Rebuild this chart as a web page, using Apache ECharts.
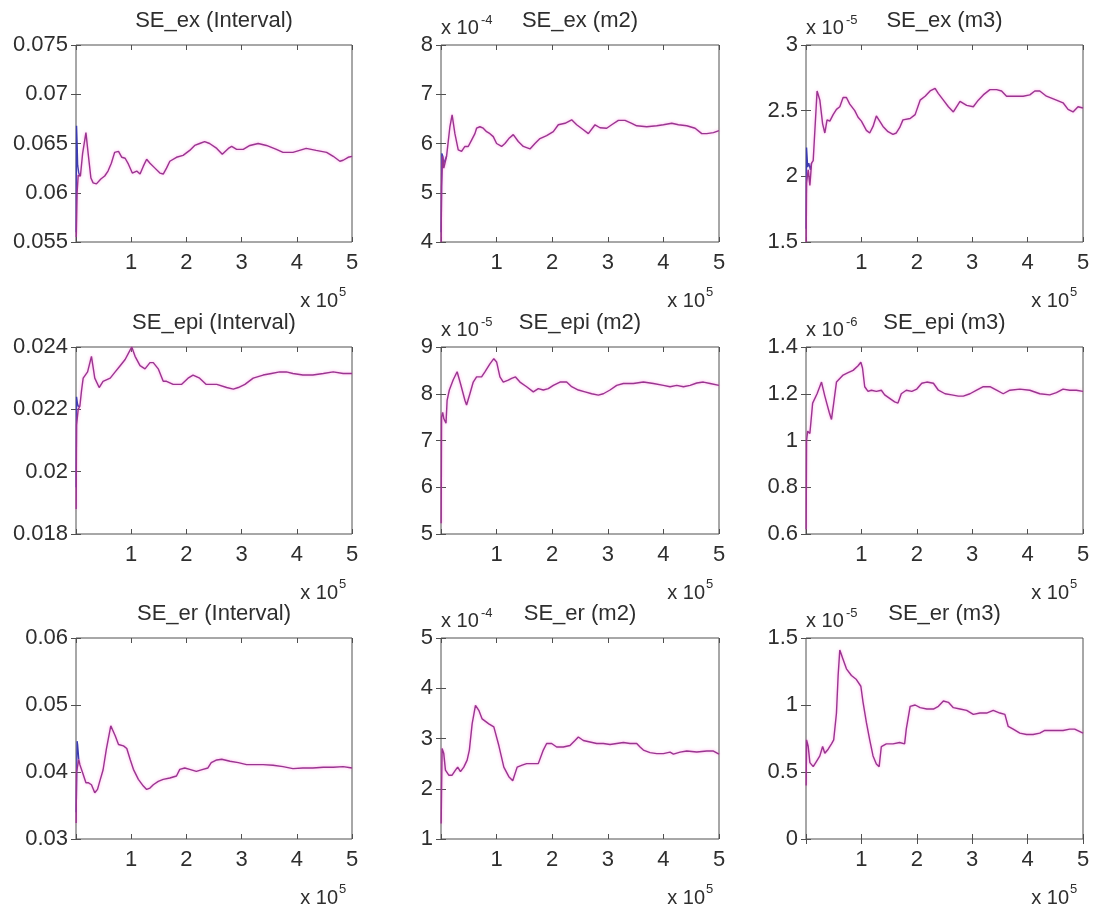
<!DOCTYPE html>
<html>
<head>
<meta charset="utf-8">
<script src="https://cdn.jsdelivr.net/npm/echarts@6.0.0/dist/echarts.min.js"></script>
<style>
html,body{margin:0;padding:0;background:#fff;}
#c{width:1097px;height:912px;}
</style>
</head>
<body>
<div id="c"></div>
<script>
// x values in units of 1e5 ; y values in the units shown on each axis
const xTicks = [1, 2, 3, 4, 5];

const seExInterval = [[0.005,0.0555],[0.02,0.0600],[0.04,0.0618],[0.08,0.0617],[0.12,0.0640],[0.18,0.0661],[0.22,0.0640],[0.27,0.0615],[0.31,0.0610],[0.37,0.0609],[0.45,0.0614],[0.52,0.0617],[0.58,0.0622],[0.64,0.0630],[0.70,0.0641],[0.77,0.0642],[0.83,0.0636],[0.89,0.0635],[0.95,0.0629],[1.02,0.0620],[1.1,0.0622],[1.16,0.0619],[1.22,0.0627],[1.28,0.0634],[1.34,0.0630],[1.43,0.0625],[1.52,0.0620],[1.58,0.0619],[1.64,0.0625],[1.7,0.0632],[1.82,0.0636],[1.94,0.0638],[2.06,0.0643],[2.15,0.0648],[2.24,0.0650],[2.33,0.0652],[2.42,0.0650],[2.55,0.0645],[2.65,0.0639],[2.76,0.0645],[2.82,0.0647],[2.91,0.0644],[3.03,0.0644],[3.15,0.0648],[3.3,0.0650],[3.45,0.0648],[3.63,0.0644],[3.75,0.0641],[3.93,0.0641],[4.05,0.0643],[4.17,0.0645],[4.35,0.0643],[4.54,0.0641],[4.66,0.0637],[4.78,0.0632],[4.84,0.0633],[4.93,0.0636],[5.0,0.0637]];
const seExIntervalBlue = [[0.003,0.0560],[0.01,0.0668],[0.02,0.0650],[0.03,0.0628],[0.05,0.0620],[0.08,0.0617]];

const seExM2 = [[0.003,4.0],[0.01,5.13],[0.03,5.74],[0.05,5.5],[0.10,5.74],[0.16,6.34],[0.20,6.58],[0.25,6.2],[0.31,5.87],[0.37,5.84],[0.43,5.94],[0.49,5.94],[0.55,6.07],[0.61,6.2],[0.64,6.31],[0.70,6.34],[0.76,6.31],[0.82,6.24],[0.88,6.2],[0.94,6.14],[1.0,6.0],[1.09,5.94],[1.15,6.0],[1.22,6.1],[1.30,6.18],[1.39,6.04],[1.48,5.94],[1.60,5.89],[1.69,6.0],[1.78,6.1],[1.90,6.16],[2.02,6.24],[2.11,6.38],[2.23,6.41],[2.35,6.48],[2.44,6.38],[2.56,6.28],[2.65,6.2],[2.77,6.38],[2.86,6.32],[2.98,6.31],[3.07,6.38],[3.19,6.47],[3.31,6.47],[3.43,6.41],[3.52,6.36],[3.70,6.34],[3.88,6.36],[4.0,6.38],[4.15,6.41],[4.27,6.38],[4.42,6.36],[4.57,6.31],[4.69,6.2],[4.78,6.2],[4.90,6.22],[5.0,6.26]];
const seExM2Blue = [[0.003,4.2],[0.015,5.8],[0.03,5.75],[0.05,5.6],[0.10,5.74]];

const seExM3 = [[0.003,1.5],[0.01,1.95],[0.04,2.05],[0.07,1.93],[0.10,2.1],[0.13,2.12],[0.20,2.65],[0.25,2.58],[0.30,2.40],[0.34,2.33],[0.38,2.43],[0.43,2.42],[0.49,2.47],[0.55,2.51],[0.61,2.53],[0.67,2.60],[0.73,2.60],[0.79,2.55],[0.88,2.50],[0.94,2.45],[1.0,2.42],[1.09,2.35],[1.15,2.33],[1.21,2.38],[1.27,2.46],[1.33,2.42],[1.39,2.38],[1.48,2.34],[1.57,2.32],[1.63,2.33],[1.69,2.37],[1.75,2.43],[1.88,2.44],[1.97,2.47],[2.06,2.58],[2.15,2.61],[2.24,2.65],[2.33,2.67],[2.39,2.63],[2.48,2.58],[2.57,2.53],[2.66,2.49],[2.78,2.57],[2.90,2.54],[3.02,2.53],[3.11,2.58],[3.20,2.62],[3.32,2.66],[3.44,2.66],[3.53,2.65],[3.62,2.61],[3.74,2.61],[3.92,2.61],[4.04,2.62],[4.13,2.65],[4.22,2.65],[4.34,2.61],[4.52,2.58],[4.64,2.56],[4.73,2.51],[4.82,2.49],[4.91,2.53],[5.0,2.52]];
const seExM3Blue = [[0.003,1.6],[0.01,2.22],[0.03,2.07],[0.05,2.1],[0.08,2.05],[0.10,2.1]];

const seEpiInterval = [[0.003,0.0188],[0.01,0.0215],[0.04,0.0220],[0.07,0.0221],[0.10,0.0226],[0.13,0.0230],[0.21,0.0232],[0.28,0.0237],[0.34,0.0230],[0.42,0.0227],[0.49,0.0229],[0.62,0.0230],[0.71,0.0232],[0.80,0.0234],[0.89,0.0236],[0.98,0.0239],[1.01,0.0240],[1.07,0.0237],[1.16,0.0234],[1.25,0.0233],[1.34,0.0235],[1.40,0.0235],[1.49,0.0233],[1.58,0.0229],[1.64,0.0229],[1.76,0.0228],[1.91,0.0228],[2.03,0.0230],[2.12,0.0231],[2.24,0.0230],[2.36,0.0228],[2.55,0.0228],[2.73,0.0227],[2.85,0.02265],[2.94,0.0227],[3.06,0.0228],[3.21,0.0230],[3.39,0.0231],[3.54,0.02315],[3.69,0.0232],[3.81,0.0232],[3.93,0.02315],[4.11,0.0231],[4.29,0.0231],[4.48,0.02315],[4.66,0.0232],[4.84,0.02315],[5.0,0.02315]];
const seEpiIntervalBlue = [[0.003,0.0195],[0.01,0.0224],[0.025,0.0222],[0.04,0.0221],[0.07,0.0221]];

const seEpiM2 = [[0.003,5.23],[0.01,7.5],[0.03,7.6],[0.05,7.47],[0.09,7.37],[0.11,7.86],[0.15,8.08],[0.22,8.3],[0.29,8.47],[0.35,8.22],[0.43,7.86],[0.46,7.76],[0.52,8.0],[0.58,8.25],[0.64,8.36],[0.73,8.36],[0.79,8.47],[0.88,8.64],[0.95,8.75],[1.0,8.68],[1.06,8.36],[1.12,8.25],[1.21,8.29],[1.27,8.33],[1.34,8.36],[1.42,8.25],[1.54,8.15],[1.66,8.04],[1.75,8.11],[1.84,8.08],[1.93,8.11],[2.02,8.18],[2.14,8.25],[2.26,8.25],[2.35,8.15],[2.47,8.08],[2.59,8.04],[2.71,8.0],[2.83,7.97],[2.92,8.0],[3.04,8.08],[3.16,8.18],[3.28,8.22],[3.46,8.22],[3.64,8.25],[3.82,8.22],[4.0,8.18],[4.12,8.15],[4.24,8.18],[4.36,8.15],[4.48,8.18],[4.60,8.23],[4.72,8.25],[4.84,8.22],[5.0,8.18]];

const seEpiM3 = [[0.003,0.62],[0.01,1.0],[0.03,1.04],[0.07,1.03],[0.12,1.16],[0.20,1.2],[0.28,1.25],[0.34,1.19],[0.42,1.12],[0.46,1.09],[0.50,1.16],[0.55,1.25],[0.61,1.265],[0.67,1.28],[0.76,1.29],[0.85,1.30],[0.94,1.32],[0.99,1.335],[1.02,1.31],[1.06,1.23],[1.12,1.21],[1.18,1.215],[1.27,1.21],[1.36,1.215],[1.42,1.195],[1.51,1.18],[1.60,1.165],[1.66,1.16],[1.72,1.2],[1.81,1.215],[1.91,1.21],[2.0,1.22],[2.09,1.245],[2.18,1.25],[2.30,1.245],[2.39,1.215],[2.51,1.2],[2.63,1.195],[2.75,1.19],[2.84,1.19],[2.96,1.2],[3.08,1.215],[3.20,1.23],[3.32,1.23],[3.44,1.215],[3.56,1.2],[3.68,1.215],[3.86,1.22],[4.04,1.215],[4.22,1.2],[4.40,1.195],[4.52,1.205],[4.64,1.22],[4.76,1.215],[4.88,1.215],[5.0,1.21]];

const seErInterval = [[0.003,0.0324],[0.01,0.0400],[0.05,0.0419],[0.07,0.0411],[0.12,0.0399],[0.18,0.0384],[0.22,0.0384],[0.28,0.0381],[0.34,0.0369],[0.39,0.0374],[0.43,0.0386],[0.49,0.0403],[0.55,0.0434],[0.63,0.0469],[0.71,0.0454],[0.77,0.0441],[0.86,0.0439],[0.92,0.0435],[0.98,0.0419],[1.04,0.0404],[1.13,0.0389],[1.22,0.0379],[1.28,0.0374],[1.34,0.0376],[1.40,0.0381],[1.49,0.0386],[1.58,0.0389],[1.70,0.0391],[1.82,0.0394],[1.88,0.0404],[1.97,0.0406],[2.06,0.0404],[2.18,0.0401],[2.30,0.0404],[2.39,0.0406],[2.45,0.0414],[2.55,0.0418],[2.64,0.0419],[2.79,0.0416],[2.94,0.0414],[3.09,0.0411],[3.24,0.0411],[3.39,0.0411],[3.57,0.0410],[3.75,0.0408],[3.93,0.0405],[4.11,0.0406],[4.29,0.0406],[4.48,0.0407],[4.66,0.0407],[4.84,0.0408],[5.0,0.0406]];
const seErIntervalBlue = [[0.003,0.034],[0.02,0.0446],[0.03,0.0440],[0.05,0.0419]];

const seErM2 = [[0.003,1.31],[0.01,1.97],[0.02,2.8],[0.05,2.7],[0.08,2.37],[0.14,2.27],[0.20,2.27],[0.26,2.37],[0.30,2.43],[0.35,2.34],[0.41,2.43],[0.47,2.57],[0.51,2.77],[0.56,3.29],[0.62,3.66],[0.68,3.56],[0.74,3.39],[0.86,3.29],[0.95,3.23],[1.04,2.86],[1.13,2.43],[1.22,2.24],[1.29,2.16],[1.37,2.43],[1.46,2.47],[1.54,2.5],[1.66,2.5],[1.75,2.5],[1.84,2.77],[1.90,2.9],[1.99,2.9],[2.08,2.83],[2.20,2.83],[2.32,2.86],[2.41,2.96],[2.47,3.03],[2.56,2.96],[2.68,2.93],[2.80,2.9],[2.92,2.9],[3.04,2.88],[3.16,2.9],[3.28,2.92],[3.40,2.9],[3.52,2.9],[3.58,2.83],[3.64,2.77],[3.76,2.72],[3.88,2.7],[4.0,2.7],[4.12,2.73],[4.18,2.69],[4.30,2.73],[4.42,2.75],[4.60,2.73],[4.78,2.75],[4.90,2.75],[5.0,2.69]];

const seErM3 = [[0.003,0.4],[0.01,0.74],[0.04,0.69],[0.07,0.57],[0.13,0.54],[0.19,0.58],[0.25,0.62],[0.30,0.69],[0.34,0.64],[0.40,0.67],[0.46,0.71],[0.50,0.74],[0.55,0.94],[0.58,1.22],[0.61,1.41],[0.67,1.34],[0.73,1.27],[0.82,1.22],[0.91,1.19],[0.99,1.14],[1.03,1.02],[1.09,0.87],[1.15,0.74],[1.21,0.62],[1.27,0.56],[1.32,0.54],[1.36,0.69],[1.45,0.71],[1.57,0.71],[1.69,0.72],[1.78,0.71],[1.81,0.82],[1.88,0.99],[1.97,1.0],[2.06,0.98],[2.18,0.97],[2.30,0.97],[2.39,0.99],[2.48,1.03],[2.57,1.02],[2.66,0.98],[2.78,0.97],[2.90,0.96],[3.02,0.93],[3.14,0.94],[3.26,0.94],[3.38,0.96],[3.50,0.94],[3.59,0.93],[3.65,0.84],[3.74,0.82],[3.86,0.79],[3.98,0.78],[4.10,0.78],[4.22,0.79],[4.31,0.81],[4.46,0.81],[4.64,0.81],[4.76,0.82],[4.85,0.82],[5.0,0.79]];

const titles = ['SE_ex (Interval)','SE_ex (m2)','SE_ex (m3)','SE_epi (Interval)','SE_epi (m2)','SE_epi (m3)','SE_er (Interval)','SE_er (m2)','SE_er (m3)'];
const yMins = [0.055, 4, 1.5, 0.018, 5, 0.6, 0.03, 1, 0];
const yMaxs = [0.075, 8, 3, 0.024, 9, 1.4, 0.06, 5, 1.5];
const ySteps = [0.005, 1, 0.5, 0.002, 1, 0.2, 0.01, 1, 0.5];
const yExps = [null, '-4', '-5', null, '-5', '-6', null, '-4', '-5'];
const xExp = '5';
const magentaData = [seExInterval, seExM2, seExM3, seEpiInterval, seEpiM2, seEpiM3, seErInterval, seErM2, seErM3];
const blueData = [seExIntervalBlue, seExM2Blue, seExM3Blue, seEpiIntervalBlue, null, null, seErIntervalBlue, null, null];

// layout
const colLeft = [76, 441, 806];
const colWidth = [276, 278, 277];
const rowTop = [45, 347, 638];
const rowHeight = [197, 187, 201];
const FF = '"Liberation Sans", Arial, Helvetica, sans-serif';
const FS = 22;
const TXT = '#2e2e2e';
const AX = '#505050';

const grids = [], xAxes = [], yAxes = [], series = [], graphics = [];
function fmt(v){ return String(parseFloat(Number(v).toFixed(6))); }

titles.forEach((t, i) => {
  const r = Math.floor(i / 3), c = i % 3;
  const left = colLeft[c], top = rowTop[r], w = colWidth[c], h = rowHeight[r];
  grids.push({left: left, top: top, width: w, height: h, show: true, borderColor: AX, borderWidth: 1, backgroundColor: '#fff', outerBoundsMode: 'none'});
  const tick = {show: true, inside: true, length: 5, lineStyle: {color: AX, width: 1}};
  const xi = xAxes.length;
  xAxes.push({gridIndex: i, type: 'value', min: 0, max: 5, interval: 1, position: 'bottom',
    axisLine: {show: false}, axisTick: tick, splitLine: {show: false},
    axisLabel: {margin: 10, fontSize: FS, color: TXT, fontFamily: FF,
      formatter: v => (xTicks.indexOf(v) >= 0 ? String(v) : '')}});
  xAxes.push({gridIndex: i, type: 'value', min: 0, max: 5, interval: 1, position: 'top',
    axisLine: {show: false}, axisTick: tick, splitLine: {show: false}, axisLabel: {show: false}});
  const yi = yAxes.length;
  yAxes.push({gridIndex: i, type: 'value', min: yMins[i], max: yMaxs[i], interval: ySteps[i], position: 'left',
    axisLine: {show: false}, axisTick: tick, splitLine: {show: false},
    axisLabel: {margin: 8, fontSize: FS, color: TXT, fontFamily: FF, formatter: fmt}});
  yAxes.push({gridIndex: i, type: 'value', min: yMins[i], max: yMaxs[i], interval: ySteps[i], position: 'right',
    axisLine: {show: false}, axisTick: tick, splitLine: {show: false}, axisLabel: {show: false}});

  if (blueData[i]) {
    series.push({type: 'line', xAxisIndex: xi, yAxisIndex: yi, data: blueData[i], showSymbol: false, symbol: 'none',
      lineStyle: {color: '#3c3cb0', width: 1.4}, z: 2, silent: true});
  }
  series.push({type: 'line', xAxisIndex: xi, yAxisIndex: yi, data: magentaData[i], showSymbol: false, symbol: 'none',
    lineStyle: {color: '#9a3490', width: 1.4, shadowColor: 'rgba(255,80,210,0.55)', shadowBlur: 3}, z: 3, silent: true});

  // title
  graphics.push({type: 'text', x: left + w / 2, y: top - 24, silent: true,
    style: {text: t, fill: TXT, font: FS + 'px ' + FF, textAlign: 'center', textVerticalAlign: 'middle'}});
  // x multiplier below
  const xr = left + w - 14, xy = top + h + 59;
  graphics.push({type: 'text', x: xr, y: xy, silent: true,
    style: {text: 'x 10', fill: TXT, font: '20px ' + FF, textAlign: 'right', textVerticalAlign: 'middle'}});
  graphics.push({type: 'text', x: xr + 1, y: xy - 9, silent: true,
    style: {text: xExp, fill: TXT, font: '13px ' + FF, textAlign: 'left', textVerticalAlign: 'middle'}});
  // y multiplier above
  if (yExps[i]) {
    const yx = left, yy = top - 17;
    graphics.push({type: 'text', x: yx, y: yy, silent: true,
      style: {text: 'x 10', fill: TXT, font: '20px ' + FF, textAlign: 'left', textVerticalAlign: 'middle'}});
    graphics.push({type: 'text', x: yx + 40, y: yy - 8, silent: true,
      style: {text: yExps[i], fill: TXT, font: '13px ' + FF, textAlign: 'left', textVerticalAlign: 'middle'}});
  }
});

const chart = echarts.init(document.getElementById('c'));
chart.setOption({
  animation: false,
  backgroundColor: '#fff',
  grid: grids,
  xAxis: xAxes,
  yAxis: yAxes,
  series: series,
  graphic: {elements: graphics}
});
</script>
</body>
</html>
